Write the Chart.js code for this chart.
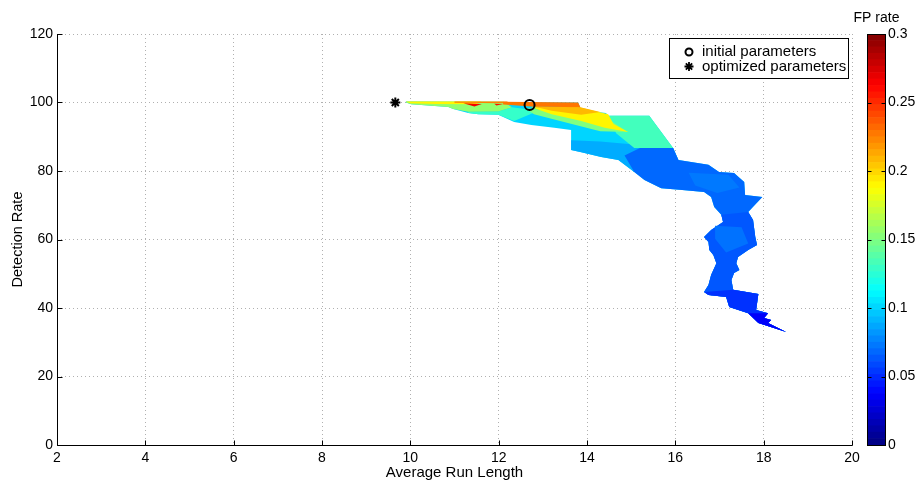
<!DOCTYPE html>
<html>
<head>
<meta charset="utf-8">
<script src="https://cdn.jsdelivr.net/npm/chart.js@4.4.1/dist/chart.umd.min.js"></script>
<style>
  html, body { margin: 0; padding: 0; background: #fff; }
  #wrap { position: relative; width: 920px; height: 483px; }
  #mainChart { position: absolute; left: 0; top: 0; }
  #barChart { position: absolute; left: 840px; top: 0; }
</style>
</head>
<body>
<div id="wrap">
  <canvas id="mainChart" width="920" height="483"></canvas>
  <canvas id="barChart" width="80" height="483"></canvas>
</div>
<script>
// axis ranges
const arlRange = [2, 20];
const drRange = [0, 120];
const fpRange = [0, 0.3];

// markers
const legendLabels = ['initial parameters', 'optimized parameters'];
const initialPoint = [12.7, 99.3];
const optimizedPoint = [9.66, 100.0];

// surface patches: [average run length, detection rate] vertices
const surfaceEdge = [
  [9.9, 100.3], [13.8, 100.0], [13.87, 97.8], [14.43, 96.9], [14.48, 96.1], [15.41, 96.1], [15.95, 86.7], [16.07, 83.2],
  [16.75, 81.8], [16.99, 79.7], [17.33, 79.4], [17.56, 76.8], [17.58, 73.0], [17.97, 72.4], [17.65, 68.0], [17.76, 65.7],
  [17.81, 60.7], [17.85, 58.4], [17.65, 56.9], [17.42, 54.9], [17.38, 53.1], [17.45, 51.1], [17.33, 50.2], [17.27, 48.2],
  [17.31, 45.3], [17.88, 44.1], [17.83, 39.4], [18.10, 38.5], [18.01, 37.1], [18.17, 36.5], [18.10, 35.6], [18.51, 33.0],
  [17.88, 35.6], [17.65, 38.5], [17.22, 40.3], [17.15, 43.2], [16.75, 43.8], [16.65, 44.7], [16.75, 46.7], [16.81, 49.6],
  [16.93, 53.1], [16.86, 55.5], [16.77, 56.9], [16.75, 59.3], [16.65, 60.7], [16.81, 62.8], [17.08, 65.1], [17.04, 67.2],
  [16.88, 69.5], [16.81, 72.4], [16.65, 73.9], [16.09, 74.5], [15.68, 75.0], [15.30, 77.4], [15.07, 79.7], [14.71, 83.2],
  [14.32, 84.1], [13.87, 85.5], [13.64, 86.1], [13.64, 92.0], [13.26, 92.6], [12.74, 93.4], [12.35, 94.3], [11.99, 96.4],
  [11.54, 96.6], [11.31, 96.9], [10.97, 98.1], [10.86, 98.7], [10.02, 99.5], [9.9, 100.0]
];
const lowerBody = [
  [13.64, 89.0], [14.3, 88.6], [15.0, 87.8], [15.95, 86.7], [16.07, 83.2], [15.07, 79.7], [14.71, 83.2],
  [14.32, 84.1], [13.87, 85.5], [13.64, 86.1]
];
const blueUpper = [
  [15.95, 86.7], [16.07, 83.2], [16.75, 81.8], [16.99, 79.7], [17.33, 79.4], [17.56, 76.8], [17.58, 73.0], [17.97, 72.4],
  [17.65, 68.0], [17.76, 65.7], [17.81, 60.7], [17.85, 58.4], [17.65, 56.9], [17.42, 54.9], [17.38, 53.1], [17.45, 51.1],
  [17.33, 50.2], [17.27, 48.2], [17.31, 45.3], [17.88, 44.1], [17.83, 39.4], [18.10, 38.5], [18.01, 37.1], [18.17, 36.5],
  [18.10, 35.6], [18.51, 33.0], [17.88, 35.6], [17.65, 38.5], [17.22, 40.3], [17.15, 43.2], [16.75, 43.8], [16.65, 44.7],
  [16.75, 46.7], [16.81, 49.6], [16.93, 53.1], [16.86, 55.5], [16.77, 56.9], [16.75, 59.3], [16.65, 60.7], [16.81, 62.8],
  [17.08, 65.1], [17.04, 67.2], [16.88, 69.5], [16.81, 72.4], [16.65, 73.9], [16.09, 74.5], [15.68, 75.0], [15.30, 77.4],
  [15.07, 79.7], [14.85, 84.5], [15.2, 86.7]
];
const blueMid = [
  [17.65, 68.0], [17.76, 65.7], [17.81, 60.7], [17.85, 58.4], [17.65, 56.9], [17.42, 54.9], [17.38, 53.1], [17.45, 51.1],
  [17.33, 50.2], [17.27, 48.2], [17.31, 45.3], [17.88, 44.1], [17.83, 39.4], [18.10, 38.5], [18.01, 37.1], [18.17, 36.5],
  [18.10, 35.6], [18.51, 33.0], [17.88, 35.6], [17.65, 38.5], [17.22, 40.3], [17.15, 43.2], [16.75, 43.8], [16.65, 44.7],
  [16.75, 46.7], [16.81, 49.6], [16.93, 53.1], [16.86, 55.5], [16.77, 56.9], [16.75, 59.3], [16.65, 60.7], [16.81, 62.8],
  [17.08, 65.1], [17.04, 67.2]
];
const blueLow = [
  [17.31, 45.3], [17.88, 44.1], [17.83, 39.4], [18.10, 38.5], [18.01, 37.1], [18.17, 36.5], [18.10, 35.6], [18.51, 33.0],
  [17.88, 35.6], [17.65, 38.5], [17.22, 40.3], [17.15, 43.2], [16.75, 43.8], [16.65, 44.7]
];
const blueTail = [
  [18.10, 38.5], [18.01, 37.1], [18.17, 36.5], [18.10, 35.6], [18.51, 33.0], [17.88, 35.6], [17.65, 38.5]
];
const blueFleckA = [[16.3, 79.5], [17.2, 78.9], [17.45, 75.2], [16.95, 73.6], [16.45, 75.8]];
const blueFleckB = [[16.9, 64.0], [17.5, 63.6], [17.65, 58.8], [17.15, 56.2], [16.9, 60.2]];
const headAqua = [[11.31, 97.3], [11.99, 97.4], [12.3, 98.6], [12.9, 97.6], [12.35, 94.6], [11.99, 96.4], [11.54, 96.6], [11.31, 96.9]];
const headGreen = [[9.9, 100.3], [12.1, 100.3], [12.3, 98.6], [11.99, 97.4], [11.31, 97.3], [10.97, 98.1], [10.86, 98.7], [10.02, 99.5], [9.9, 100.0]];
const headYellow = [[9.9, 100.3], [11.6, 100.3], [11.5, 99.5], [10.6, 99.55], [10.0, 99.8]];
const headOrange = [[11.0, 100.3], [12.2, 100.3], [12.2, 99.8], [11.0, 99.9]];
const sheet = [[14.48, 96.1], [15.41, 96.1], [15.95, 86.7], [15.07, 86.7], [14.66, 91.0]];
const fanGreen = [[12.6, 98.4], [13.8, 96.8], [14.5, 95.0], [14.93, 91.4], [14.3, 91.6], [13.7, 93.6], [12.8, 96.6]];
const fanYellow = [[12.74, 98.6], [13.8, 98.7], [14.48, 96.6], [14.6, 93.7], [14.93, 91.4], [14.4, 92.6], [13.87, 94.6], [13.2, 96.6]];
const fanOrange = [[12.74, 99.0], [13.85, 98.6], [14.3, 97.2], [13.87, 96.4], [13.2, 97.6]];
const topOrange = [[12.1, 100.2], [13.8, 100.0], [13.85, 98.6], [12.74, 98.8], [12.1, 99.4]];
const redA = [[11.2, 99.75], [11.62, 99.55], [11.45, 98.8]];
const redB = [[11.9, 99.65], [12.1, 99.55], [11.95, 99.1]];

// drawn in this order, with their FP rate
const patches = [surfaceEdge, lowerBody, blueUpper, blueMid, blueLow, blueTail, blueFleckA, blueFleckB,
  headAqua, headGreen, headYellow, headOrange, sheet, fanGreen, fanYellow, fanOrange, topOrange, redA, redB];
const patchFP = [0.10, 0.088, 0.068, 0.063, 0.052, 0.036, 0.073, 0.071,
  0.128, 0.155, 0.19, 0.225, 0.132, 0.15, 0.19, 0.208, 0.228, 0.265, 0.26];

const colorSteps = 64;
const FONT = '"Liberation Sans", Arial, Helvetica, sans-serif';

function jet(v) {
  const t = Math.min(Math.max((v - fpRange[0]) / (fpRange[1] - fpRange[0]), 0), 1);
  const c = k => Math.round(255 * Math.min(Math.max(1.5 - Math.abs(4 * t - k), 0), 1));
  return 'rgb(' + c(3) + ',' + c(2) + ',' + c(1) + ')';
}

// start at the leftmost vertex and finish on the rightmost one,
// so any x clip of the filler covers the whole patch
function toShape(pts) {
  let lo = 0, hi = 0;
  pts.forEach((p, i) => {
    if (p[0] < pts[lo][0]) lo = i;
    if (p[0] > pts[hi][0]) hi = i;
  });
  const ring = pts.slice(lo).concat(pts.slice(0, lo + 1));
  ring.push(pts[hi]);
  return ring.map(p => ({ x: p[0], y: p[1] }));
}

function drawAsterisk(ctx, x, y, r) {
  ctx.beginPath();
  for (let k = 0; k < 4; k++) {
    const a = k * Math.PI / 4;
    ctx.moveTo(x - r * Math.cos(a), y - r * Math.sin(a));
    ctx.lineTo(x + r * Math.cos(a), y + r * Math.sin(a));
  }
  ctx.stroke();
}

// MATLAB style axis lines, inward ticks and boxed legend
const matlabAxes = {
  id: 'matlabAxes',
  afterDraw(chart) {
    const { ctx, chartArea: a, scales: { x, y } } = chart;
    ctx.save();
    ctx.strokeStyle = '#000';
    ctx.lineWidth = 1;
    ctx.beginPath();
    const l = Math.round(a.left) + 0.5, b = Math.round(a.bottom) + 0.5;
    ctx.moveTo(l, a.top);
    ctx.lineTo(l, b);
    ctx.lineTo(a.right + 0.5, b);
    x.ticks.forEach(t => {
      const px = Math.round(x.getPixelForValue(t.value)) + 0.5;
      ctx.moveTo(px, b);
      ctx.lineTo(px, b - 5);
    });
    y.ticks.forEach(t => {
      const py = Math.round(y.getPixelForValue(t.value)) + 0.5;
      ctx.moveTo(l, py);
      ctx.lineTo(l + 5, py);
    });
    ctx.stroke();

    // legend
    const bx = 669.5, by = 38.5, bw = 179, bh = 40;
    ctx.fillStyle = '#fff';
    ctx.fillRect(bx, by, bw, bh);
    ctx.strokeRect(bx, by, bw, bh);
    ctx.lineWidth = 2;
    ctx.beginPath();
    ctx.arc(689, 52, 3.5, 0, 2 * Math.PI);
    ctx.stroke();
    ctx.lineWidth = 1.8;
    drawAsterisk(ctx, 689, 66.5, 4.5);
    ctx.fillStyle = '#000';
    ctx.font = '15px ' + FONT;
    ctx.textBaseline = 'middle';
    ctx.fillText(legendLabels[0], 702, 52);
    ctx.fillText(legendLabels[1], 702, 66.5);
    ctx.restore();
  }
};

const patchSets = patches.map((p, i) => ({
  label: 'patch' + i,
  data: toShape(p),
  showLine: true,
  fill: 'shape',
  backgroundColor: jet(patchFP[i]),
  borderColor: jet(patchFP[i]),
  borderWidth: 0,
  borderDash: [4, 0],   // keeps the exact vertex path (no fast path merging)
  pointRadius: 0,
  pointHoverRadius: 0,
  order: patches.length - i + 1
}));

const markerSets = [
  {
    label: legendLabels[0],
    data: [{ x: initialPoint[0], y: initialPoint[1] }],
    pointStyle: 'circle',
    pointRadius: 5,
    pointBorderWidth: 2,
    pointBorderColor: '#000',
    pointBackgroundColor: 'rgba(0,0,0,0)',
    order: 0
  },
  {
    label: legendLabels[1],
    data: [{ x: optimizedPoint[0], y: optimizedPoint[1] }],
    pointStyle: 'star',
    pointRadius: 5,
    pointBorderWidth: 2,
    pointBorderColor: '#000',
    pointBackgroundColor: '#000',
    order: 0
  }
];

new Chart(document.getElementById('mainChart'), {
  type: 'scatter',
  data: { datasets: markerSets.concat(patchSets) },
  options: {
    responsive: false,
    animation: false,
    devicePixelRatio: 1,
    layout: { padding: { top: 34, right: 68, left: 0, bottom: 0 } },
    plugins: { legend: { display: false }, tooltip: { enabled: false } },
    scales: {
      x: {
        type: 'linear', min: arlRange[0], max: arlRange[1],
        ticks: { stepSize: 2, color: '#000', font: { family: FONT, size: 14 }, padding: 5 },
        grid: { color: '#b0b0b0', drawTicks: false },
        border: { display: false, dash: [1, 3] },
        title: { display: true, text: 'Average Run Length', color: '#000', font: { family: FONT, size: 15 }, padding: { top: 0, bottom: 1 } },
        afterFit: s => { s.height = 38; }
      },
      y: {
        type: 'linear', min: drRange[0], max: drRange[1],
        ticks: { stepSize: 20, color: '#000', font: { family: FONT, size: 14 }, padding: 4 },
        grid: { color: '#b0b0b0', drawTicks: false },
        border: { display: false, dash: [1, 3] },
        title: { display: true, text: 'Detection Rate', color: '#000', font: { family: FONT, size: 14.5 }, padding: { top: 9, bottom: 0 } },
        afterFit: s => { s.width = 57; }
      }
    }
  },
  plugins: [matlabAxes]
});

// colorbar
const colorbarFrame = {
  id: 'colorbarFrame',
  afterDraw(chart) {
    const { ctx, chartArea: a, scales: { y } } = chart;
    ctx.save();
    ctx.strokeStyle = '#000';
    ctx.lineWidth = 1;
    const l = Math.round(a.left) + 0.5, r = Math.round(a.right) + 0.5;
    const t = Math.round(a.top) + 0.5, b = Math.round(a.bottom) + 0.5;
    ctx.strokeRect(l, t, r - l, b - t);
    ctx.beginPath();
    y.ticks.forEach(tk => {
      const py = Math.round(y.getPixelForValue(tk.value)) + 0.5;
      ctx.moveTo(l, py); ctx.lineTo(l + 4, py);
      ctx.moveTo(r, py); ctx.lineTo(r - 4, py);
    });
    ctx.stroke();
    ctx.fillStyle = '#000';
    ctx.font = '14px ' + FONT;
    ctx.textAlign = 'center';
    ctx.textBaseline = 'middle';
    ctx.fillText('FP rate', (l + r) / 2, 18);
    ctx.restore();
  }
};

const barSets = [];
for (let i = 0; i < colorSteps; i++) {
  const step = (fpRange[1] - fpRange[0]) / colorSteps;
  barSets.push({
    data: [step],
    backgroundColor: jet(fpRange[0] + (i + 0.5) * step),
    borderWidth: 0,
    barPercentage: 1,
    categoryPercentage: 1
  });
}

new Chart(document.getElementById('barChart'), {
  type: 'bar',
  data: { labels: ['FP rate'], datasets: barSets },
  options: {
    responsive: false,
    animation: false,
    devicePixelRatio: 1,
    layout: { padding: { top: 34, right: 0, left: 27, bottom: 38 } },
    plugins: { legend: { display: false }, tooltip: { enabled: false } },
    scales: {
      x: { stacked: true, display: false },
      y: {
        stacked: true, position: 'right', min: fpRange[0], max: fpRange[1],
        ticks: {
          stepSize: 0.05, color: '#000', font: { family: FONT, size: 14 }, padding: 3,
          callback: v => String(+v.toFixed(2))
        },
        grid: { display: false, drawTicks: false },
        border: { display: false },
        afterFit: s => { s.width = 35; }
      }
    }
  },
  plugins: [colorbarFrame]
});
</script>
</body>
</html>
